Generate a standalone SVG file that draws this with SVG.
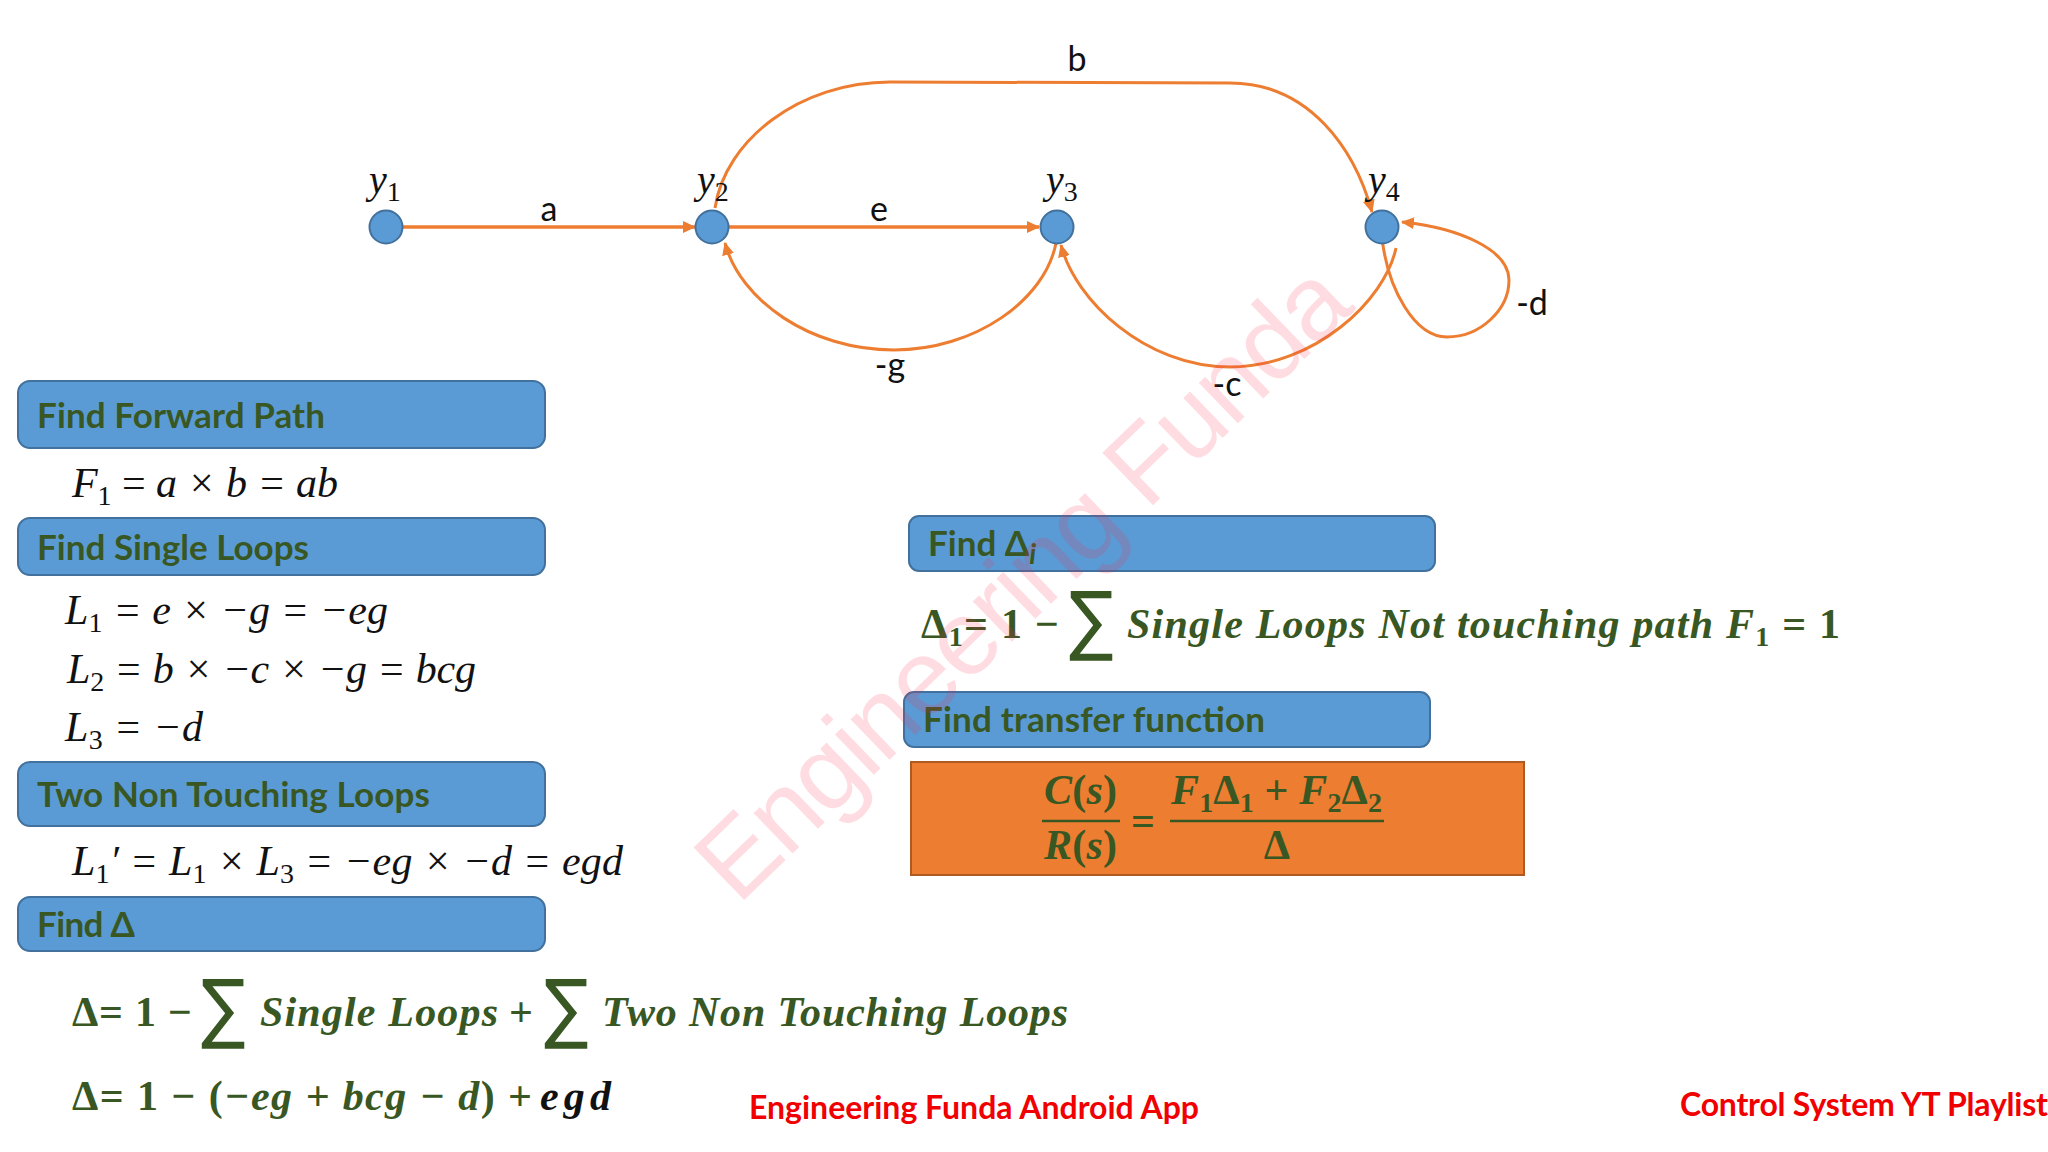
<svg xmlns="http://www.w3.org/2000/svg" width="2048" height="1152" viewBox="0 0 2048 1152">
<style>
.box{fill:#5b9bd5;stroke:#41719c;stroke-width:2}
.head{font:bold 35px Lato,"Liberation Sans",sans-serif;fill:#385723}
.lab{font:34px Lato,"Liberation Sans",sans-serif;fill:#111;text-anchor:middle}
.node{fill:#5b9bd5;stroke:#41719c;stroke-width:2}
.y{font:italic 40px "Liberation Serif",serif;fill:#111}
.m{font:italic 42px "Liberation Serif",serif;fill:#111}
.g{font:italic bold 42px "Liberation Serif",serif;fill:#385723}
.up{font-style:normal}
.s{font-size:28px;font-style:normal}
.sig{font:76px "DejaVu Sans",sans-serif;fill:#385723}
.red{font:bold 32px Lato,"Liberation Sans",sans-serif;fill:#f00000}
.c{fill:none;stroke:#ed7d31;stroke-width:3}
</style>
<defs><marker id="ah" markerUnits="userSpaceOnUse" markerWidth="14" markerHeight="14" refX="12" refY="6" orient="auto"><path d="M0 0L13 6L0 12Z" fill="#ed7d31"/></marker></defs>
<rect width="2048" height="1152" fill="#fff"/>
<g id="connectors">
<path class="c" style="stroke-width:3.5" d="M403 227H695" marker-end="url(#ah)"/>
<path class="c" style="stroke-width:3.5" d="M729 227H1039" marker-end="url(#ah)"/>
<path class="c" d="M715 208C725 140 800 82 890 82L1230 83C1310 83 1355 150 1372 212" marker-end="url(#ah)"/>
<path class="c" d="M1056 243C1045 300 975 350 894 350C810 350 740 300 725 243" marker-end="url(#ah)"/>
<path class="c" d="M1396 248C1385 300 1315 367 1230 367C1145 367 1075 300 1061 245" marker-end="url(#ah)"/>
<path class="c" d="M1382 238C1388 290 1415 337 1447 337C1480 337 1509 310 1509 280C1509 250 1460 228 1402 222" marker-end="url(#ah)"/>
</g>
<g id="n1"><circle class="node" cx="386" cy="227" r="16.5"/><text class="y" x="369" y="193">y<tspan class="s" dy="8">1</tspan></text></g>
<g id="n2"><circle class="node" cx="712" cy="227" r="16.5"/><text class="y" x="697" y="193">y<tspan class="s" dy="8">2</tspan></text></g>
<g id="n3"><circle class="node" cx="1057" cy="227" r="16.5"/><text class="y" x="1046" y="193">y<tspan class="s" dy="8">3</tspan></text></g>
<g id="n4"><circle class="node" cx="1382" cy="227" r="16.5"/><text class="y" x="1368" y="193">y<tspan class="s" dy="8">4</tspan></text></g>
<g id="edge-labels">
<text class="lab" x="549" y="221">a</text><text class="lab" x="879" y="221">e</text><text class="lab" x="1077" y="71">b</text>
<text class="lab" x="890" y="377">-g</text><text class="lab" x="1227" y="396">-c</text><text class="lab" x="1532" y="315">-d</text>
</g>
<g id="forward"><rect class="box" x="18" y="381" width="527" height="67" rx="12"/><text class="head" x="37" y="428" textLength="288">Find Forward Path</text></g>
<text class="m" x="72" y="497" textLength="266">F<tspan class="s" dy="8">1</tspan><tspan class="up" dy="-8"> = </tspan>a × b = ab</text>
<g id="single"><rect class="box" x="18" y="518" width="527" height="57" rx="12"/><text class="head" x="37" y="560" textLength="272">Find Single Loops</text></g>
<text class="m" x="65" y="624" textLength="323">L<tspan class="s" dy="8">1</tspan><tspan dy="-8"> = e × −g = −eg</tspan></text>
<text class="m" x="67" y="683" textLength="409">L<tspan class="s" dy="8">2</tspan><tspan dy="-8"> = b × −c × −g = bcg</tspan></text>
<text class="m" x="65" y="741" textLength="138">L<tspan class="s" dy="8">3</tspan><tspan dy="-8"> = −d</tspan></text>
<g id="two"><rect class="box" x="18" y="762" width="527" height="64" rx="12"/><text class="head" x="37" y="807" textLength="393">Two Non Touching Loops</text></g>
<text class="m" x="72" y="875" textLength="551">L<tspan class="s" dy="8">1</tspan><tspan dy="-8">′ = L</tspan><tspan class="s" dy="8">1</tspan><tspan dy="-8"> × L</tspan><tspan class="s" dy="8">3</tspan><tspan dy="-8"> = −eg × −d = egd</tspan></text>
<g id="delta"><rect class="box" x="18" y="897" width="527" height="54" rx="12"/><text class="head" x="37" y="937" textLength="98">Find Δ</text></g>
<text class="g" x="72" y="1026" textLength="120"><tspan class="up">Δ= 1 −</tspan></text>
<text class="sig" transform="translate(201 1034) scale(.87 1)">∑</text>
<text class="g" x="260" y="1026" textLength="238">Single Loops</text>
<text class="g" x="509" y="1026"><tspan class="up">+</tspan></text>
<text class="sig" transform="translate(544 1034) scale(.87 1)">∑</text>
<text class="g" x="602" y="1026" textLength="466">Two Non Touching Loops</text>
<text class="g" x="72" y="1110" textLength="460"><tspan class="up">Δ= 1 − (</tspan>−eg + bcg − d<tspan class="up">) +</tspan></text>
<text class="g" style="fill:#111" x="540" y="1110" textLength="71">egd</text>
<g id="delta-i"><rect class="box" x="909" y="516" width="526" height="55" rx="10"/><text class="head" x="928" y="556">Find Δ<tspan class="s" style="font-style:italic" dy="8">i</tspan></text></g>
<text class="g" x="921" y="638" textLength="138"><tspan class="up">Δ</tspan><tspan class="s" dy="8">1</tspan><tspan class="up" dy="-8">= 1 −</tspan></text>
<text class="sig" transform="translate(1069 646) scale(.87 1)">∑</text>
<text class="g" x="1127" y="638" textLength="713">Single Loops Not touching path F<tspan class="s" dy="8">1</tspan><tspan class="up" dy="-8"> = 1</tspan></text>
<g id="transfer"><rect class="box" x="904" y="692" width="526" height="55" rx="10"/><text class="head" x="923" y="732" textLength="342">Find transfer function</text></g>
<g id="formula">
<rect x="911" y="762" width="613" height="113" fill="#ed7d31" stroke="#ae5a21" stroke-width="2"/>
<text class="g" x="1044" y="804" textLength="73">C<tspan class="up">(</tspan>s<tspan class="up">)</tspan></text>
<text class="g" x="1044" y="859" textLength="73">R<tspan class="up">(</tspan>s<tspan class="up">)</tspan></text>
<path d="M1042 821H1120M1170 821H1384" stroke="#385723" stroke-width="2.5"/>
<text class="g" x="1131" y="835"><tspan class="up">=</tspan></text>
<text class="g" x="1171" y="804" textLength="211">F<tspan class="s" dy="8">1</tspan><tspan class="up" dy="-8">Δ</tspan><tspan class="s" dy="8">1</tspan><tspan class="up" dy="-8"> + </tspan>F<tspan class="s" dy="8">2</tspan><tspan class="up" dy="-8">Δ</tspan><tspan class="s" dy="8">2</tspan></text>
<text class="g up" x="1277" y="859" text-anchor="middle" style="font-style:normal">Δ</text>
</g>
<text class="red" x="749" y="1119" textLength="450">Engineering Funda Android App</text>
<text class="red" x="1680" y="1116" textLength="368">Control System YT Playlist</text>
<text id="watermark" transform="translate(738 906) rotate(-44)" font-family="'Liberation Sans',sans-serif" font-size="106" fill="#f8274a" fill-opacity="0.16" textLength="860">Engineering Funda</text>
</svg>
